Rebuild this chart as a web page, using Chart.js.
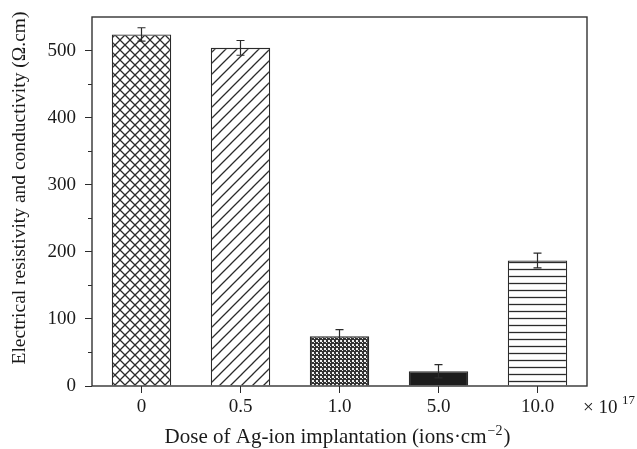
<!DOCTYPE html>
<html>
<head>
<meta charset="utf-8">
<script src="https://cdn.jsdelivr.net/npm/chart.js@4/dist/chart.umd.min.js"></script>
<style>
    body { margin: 0; background: #fff; }
    canvas { display: block; }
</style>
</head>
<body>
<canvas id="chart-dose" width="637" height="449"></canvas>
<script>
const doses = ['0', '0.5', '1.0', '5.0', '10.0'];
const resistivity = [524, 504, 74, 22, 187];
const errores = [10, 11, 10, 10, 11];
const yTicks = [0, 100, 200, 300, 400, 500];

const FONT = '"Liberation Serif", "DejaVu Serif", serif';
const INK = '#2b2b2b';

// Build hatch fills for each bar
function makePattern(kind) {
    const c = document.createElement('canvas');
    const size = { cross: 10, diag: 11, dots: 4, solid: 4, horiz: 7 }[kind];
    c.width = size;
    c.height = size;
    const g = c.getContext('2d');
    g.fillStyle = '#fff';
    g.fillRect(0, 0, size, size);
    g.strokeStyle = INK;
    g.lineWidth = 1.3;
    if (kind === 'cross') {
        g.beginPath();
        g.moveTo(-1, -1); g.lineTo(size + 1, size + 1);
        g.moveTo(size + 1, -1); g.lineTo(-1, size + 1);
        g.stroke();
    } else if (kind === 'diag') {
        g.beginPath();
        g.moveTo(-1, size + 1); g.lineTo(size + 1, -1);
        g.moveTo(-size / 2 - 1, size / 2 + 1); g.lineTo(size / 2 + 1, -size / 2 - 1);
        g.moveTo(size / 2 - 1, size * 1.5 + 1); g.lineTo(size * 1.5 + 1, size / 2 - 1);
        g.stroke();
    } else if (kind === 'dots') {
        g.fillStyle = '#333';
        g.fillRect(0, 0, size, size);
        g.fillStyle = '#f0f0f0';
        g.fillRect(0, 0, 2, 2);
        g.fillRect(2, 2, 1, 1);
    } else if (kind === 'solid') {
        g.fillStyle = '#1c1c1c';
        g.fillRect(0, 0, size, size);
    } else if (kind === 'horiz') {
        g.beginPath();
        g.moveTo(0, 3.5); g.lineTo(size, 3.5);
        g.stroke();
    }
    return g.createPattern(c, 'repeat');
}

const fills = ['cross', 'diag', 'dots', 'solid', 'horiz'].map(makePattern);

// Minor ticks, frame, error bars and titles
const extras = {
    id: 'extras',
    afterDatasetsDraw(chart) {
        const ctx = chart.ctx;
        const a = chart.chartArea;
        const y = chart.scales.y;
        const meta = chart.getDatasetMeta(0);
        ctx.save();
        ctx.strokeStyle = INK;
        ctx.lineWidth = 1.2;
        meta.data.forEach((bar, i) => {
            const top = y.getPixelForValue(resistivity[i] + errores[i]);
            const bot = y.getPixelForValue(resistivity[i] - errores[i]);
            ctx.beginPath();
            ctx.moveTo(bar.x, top); ctx.lineTo(bar.x, bot);
            ctx.moveTo(bar.x - 4, top); ctx.lineTo(bar.x + 4, top);
            ctx.moveTo(bar.x - 4, bot); ctx.lineTo(bar.x + 4, bot);
            ctx.stroke();
        });

        // minor ticks on y
        ctx.lineWidth = 1;
        for (let v = 50; v < 550; v += 100) {
            const py = Math.round(y.getPixelForValue(v)) + 0.5;
            ctx.beginPath();
            ctx.moveTo(a.left - 4, py); ctx.lineTo(a.left, py);
            ctx.stroke();
        }

        // frame
        ctx.lineWidth = 1.4;
        ctx.strokeStyle = '#333';
        ctx.strokeRect(a.left, a.top, a.right - a.left, a.bottom - a.top);

        ctx.fillStyle = '#1a1a1a';
        // x title
        const big = '21px ' + FONT;
        const small = '14px ' + FONT;
        ctx.font = big;
        ctx.textBaseline = 'alphabetic';
        const t1 = 'Dose of Ag-ion implantation (ions\u00b7cm';
        const sup = '\u22122';
        const t2 = ')';
        const w1 = ctx.measureText(t1).width;
        const w2 = ctx.measureText(t2).width;
        ctx.font = small;
        const ws = ctx.measureText(sup).width;
        let x0 = (a.left + a.right) / 2 - 3 - (w1 + ws + w2) / 2;
        const base = 443;
        ctx.font = big;
        ctx.textAlign = 'left';
        ctx.fillText(t1, x0, base);
        ctx.font = small;
        ctx.fillText(sup, x0 + w1 + 1, base - 8);
        ctx.font = big;
        ctx.fillText(t2, x0 + w1 + ws + 2, base);

        // exponent label
        ctx.font = '19px ' + FONT;
        ctx.fillText('\u00d7 10', 583, 413);
        ctx.font = '13px ' + FONT;
        ctx.fillText('17', 622, 404);

        // y title
        ctx.font = '19.5px ' + FONT;
        ctx.translate(25, 188);
        ctx.rotate(-Math.PI / 2);
        ctx.textAlign = 'center';
        ctx.fillText('Electrical resistivity and conductivity (\u03a9.cm)', 0, 0);
        ctx.restore();
    }
};

const chartDosis = new Chart(document.getElementById('chart-dose').getContext('2d'), {
    type: 'bar',
    data: {
        labels: doses,
        datasets: [{
            label: 'Resistivity',
            data: resistivity,
            backgroundColor: fills,
            borderColor: INK,
            borderWidth: 1.3,
            categoryPercentage: 1,
            barPercentage: 0.6
        }]
    },
    options: {
        responsive: false,
        animation: false,
        layout: {
            padding: { top: 17, right: 50, left: 0, bottom: 0 }
        },
        plugins: {
            legend: { display: false },
            tooltip: { enabled: false }
        },
        scales: {
            x: {
                border: { display: false },
                grid: {
                    drawOnChartArea: false,
                    tickLength: 7,
                    tickColor: INK,
                    offset: false
                },
                ticks: {
                    color: '#1a1a1a',
                    padding: 3,
                    font: { family: FONT, size: 19 }
                },
                afterFit(scale) {
                    scale.height = 63;
                    scale.paddingLeft = 0;
                    scale.paddingRight = 0;
                }
            },
            y: {
                min: 0,
                max: 550,
                border: { display: false },
                grid: {
                    drawOnChartArea: false,
                    tickLength: 7,
                    tickColor: (c) => (yTicks.includes(c.tick.value) ? INK : 'rgba(0,0,0,0)')
                },
                ticks: {
                    stepSize: 50,
                    color: '#1a1a1a',
                    padding: 9,
                    font: { family: FONT, size: 19 },
                    callback: (v) => (yTicks.includes(v) ? v : '')
                },
                afterFit(scale) {
                    scale.width = 92;
                    scale.paddingTop = 0;
                    scale.paddingBottom = 0;
                }
            }
        }
    },
    plugins: [extras]
});
</script>
</body>
</html>
